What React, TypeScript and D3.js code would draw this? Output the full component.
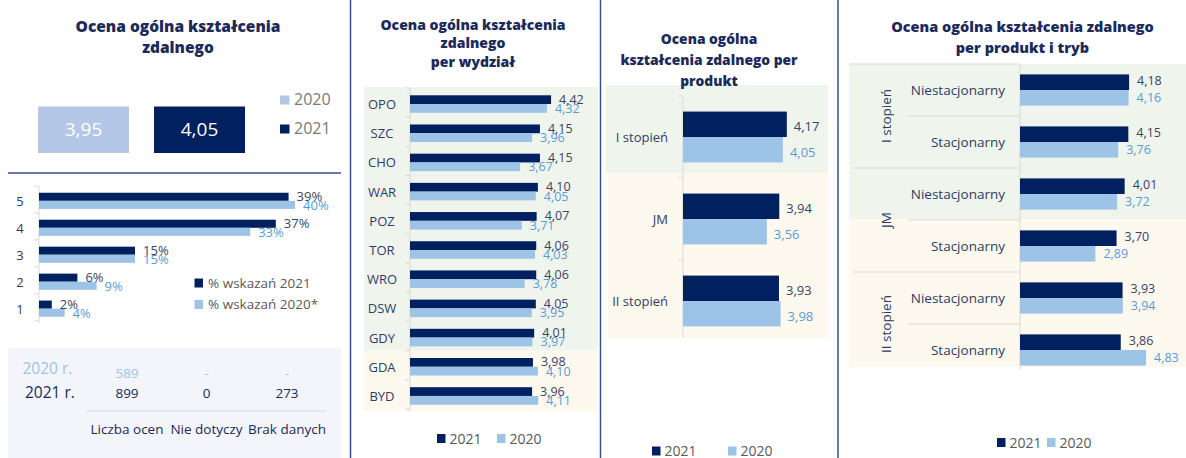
import React from "react";
import * as d3 from "d3";

// ---------- DATA ----------
const summaryYears = ["2020", "2021"];
const summaryValues = [3.95, 4.05];

const ratingCats = ["5", "4", "3", "2", "1"];
const ratingShare2021 = [39, 37, 15, 6, 2];
const ratingShare2020 = [40, 33, 15, 9, 4];
const ratingLegend = ["% wskazań 2021", "% wskazań 2020*"];

const tableRowLabels = ["2020 r.", "2021 r."];
const tableColLabels = ["Liczba ocen", "Nie dotyczy", "Brak danych"];
const table2020 = ["589", "-", "-"];
const table2021 = ["899", "0", "273"];

const facultyCats = ["OPO", "SZC", "CHO", "WAR", "POZ", "TOR", "WRO", "DSW", "GDY", "GDA", "BYD"];
const faculty2021 = [4.42, 4.15, 4.15, 4.1, 4.07, 4.06, 4.06, 4.05, 4.01, 3.98, 3.96];
const faculty2020 = [4.32, 3.96, 3.67, 4.05, 3.71, 4.03, 3.78, 3.95, 3.97, 4.1, 4.11];

const productCats = ["I stopień", "JM", "II stopień"];
const product2021 = [4.17, 3.94, 3.93];
const product2020 = [4.05, 3.56, 3.98];

const modeGroups = ["I stopień", "JM", "II stopień"];
const modeCats = ["Niestacjonarny", "Stacjonarny"];
const mode2021 = [4.18, 4.15, 4.01, 3.7, 3.93, 3.86];
const mode2020 = [4.16, 3.76, 3.72, 2.89, 3.94, 4.83];

const legendYears = ["2021", "2020"];

// ---------- STYLE ----------
const NAVY = "#002060";
const LIGHT = "#9dc3e6";
const BOX_LIGHT = "#b4c7e7";
const TITLE = "#1c2a5b";
const LABEL = "#2f3b66";
const VAL_DARK = "#3a4366";
const VAL_LIGHT = "#5b9bd5";
const GREY = "#595959";
const GREEN_BG = "#eff5ec";
const CREAM_BG = "#fdf9ef";
const AXIS = "#d9d9d9";
const SEP = "#34508c";
const FONT = "'Open Sans', 'Noto Sans', sans-serif";

const fmt2 = (v: number) => d3.format(".2f")(v).replace(".", ",");

function Title({ lines, x, y0, dy, size }: { lines: string[]; x: number; y0: number; dy: number; size: number }) {
  return (
    <text x={x} y={y0} textAnchor="middle" fontFamily={FONT} fontWeight={800} fontSize={size} fill={TITLE}>
      {lines.map((l, i) => (
        <tspan key={i} x={x} y={y0 + i * dy}>
          {l}
        </tspan>
      ))}
    </text>
  );
}

function Panel1() {
  const x = d3.scaleLinear().domain([0, 40]).range([39, 295]);
  const y = d3.scaleBand<string>().domain(ratingCats).range([186, 323.5]).paddingInner(0.4).paddingOuter(0.25);
  const step = y.step();
  const bh = y.bandwidth() / 2;
  return (
    <g>
      <Title lines={["Ocena ogólna kształcenia", "zdalnego"]} x={178} y0={32} dy={21} size={15.5} />
      {/* summary boxes */}
      {summaryValues.map((v, i) => {
        const bx = i === 0 ? 38 : 154;
        return (
          <g key={i}>
            <rect x={bx} y={106.5} width={91} height={46.5} fill={i === 0 ? BOX_LIGHT : NAVY} />
            <text x={bx + 45.5} y={136} textAnchor="middle" fontFamily={FONT} fontSize={19} fill="#ffffff">
              {fmt2(v)}
            </text>
          </g>
        );
      })}
      {summaryYears.map((yr, i) => (
        <g key={yr}>
          <rect x={280} y={95.5 + i * 29} width={9.5} height={9} fill={i === 0 ? BOX_LIGHT : NAVY} />
          <text x={294} y={104.5 + i * 29.5} fontFamily={FONT} fontSize={16} fill="#7a7a7a">
            {yr}
          </text>
        </g>
      ))}
      <line x1={8} x2={341} y1={173} y2={173} stroke={SEP} strokeWidth={1.5} />
      {/* rating bars */}
      <line x1={39} x2={39} y1={186} y2={323.5} stroke={AXIS} />
      {d3.range(ratingCats.length + 1).map((i) => (
        <line key={i} x1={34} x2={39} y1={186 + i * step} y2={186 + i * step} stroke={AXIS} />
      ))}
      {ratingCats.map((c, i) => {
        const y0 = y(c)!;
        return (
          <g key={c}>
            <text x={20} y={y0 + bh + 5} textAnchor="middle" fontFamily={FONT} fontSize={13} fill={LABEL}>
              {c}
            </text>
            <rect x={x(0)} y={y0} width={x(ratingShare2021[i]) - x(0)} height={bh} fill={NAVY} />
            <rect x={x(0)} y={y0 + bh} width={x(ratingShare2020[i]) - x(0)} height={bh} fill={LIGHT} />
            <text x={x(ratingShare2021[i]) + 8} y={y0 + bh} fontFamily={FONT} fontSize={13} fill={VAL_DARK}>
              {ratingShare2021[i]}%
            </text>
            <text x={x(ratingShare2020[i]) + 8} y={y0 + 2 * bh + 1.5} fontFamily={FONT} fontSize={13} fill={VAL_LIGHT}>
              {ratingShare2020[i]}%
            </text>
          </g>
        );
      })}
      {ratingLegend.map((l, i) => (
        <g key={l}>
          <rect x={194.5} y={278.5 + i * 21.5} width={8.5} height={9} fill={i === 0 ? NAVY : LIGHT} />
          <text x={208} y={287.5 + i * 21} fontFamily={FONT} fontSize={13.5} fill={GREY}>
            {l}
          </text>
        </g>
      ))}
      {/* table */}
      <rect x={8} y={348} width={333} height={110} fill="#f3f5fa" />
      <text x={22.5} y={373.5} fontFamily={FONT} fontSize={15.5} fill={LIGHT}>
        {tableRowLabels[0]}
      </text>
      <text x={25} y={397.5} fontFamily={FONT} fontSize={15.5} fill={TITLE}>
        {tableRowLabels[1]}
      </text>
      {tableColLabels.map((c, i) => {
        const cx = [127, 206.5, 287][i];
        return (
          <g key={c}>
            <text x={cx} y={377.5} textAnchor="middle" fontFamily={FONT} fontSize={13.5} fill={LIGHT}>
              {table2020[i]}
            </text>
            <text x={cx} y={397.5} textAnchor="middle" fontFamily={FONT} fontSize={13.5} fill={TITLE}>
              {table2021[i]}
            </text>
            <text x={cx} y={434} textAnchor="middle" fontFamily={FONT} fontSize={13.5} fill={TITLE}>
              {c}
            </text>
          </g>
        );
      })}
      <line x1={86} x2={326} y1={411} y2={411} stroke={AXIS} />
    </g>
  );
}

function Legend2({ x0, x1, y }: { x0: number; x1: number; y: number }) {
  return (
    <g>
      {legendYears.map((yr, i) => (
        <g key={yr}>
          <rect x={i === 0 ? x0 : x1} y={y - 4.5} width={8.5} height={9} fill={i === 0 ? NAVY : LIGHT} />
          <text x={(i === 0 ? x0 : x1) + 12.5} y={y + 5} fontFamily={FONT} fontSize={14} fill={GREY}>
            {yr}
          </text>
        </g>
      ))}
    </g>
  );
}

function Panel2() {
  const x = d3.scaleLinear().domain([1, 5]).range([410, 575]);
  const y = d3.scaleBand<string>().domain(facultyCats).range([88, 412]).paddingInner(0.4).paddingOuter(0.25);
  const step = y.step();
  const bh = y.bandwidth() / 2;
  const split = 88 + 9 * step;
  return (
    <g>
      <rect x={364} y={87} width={234} height={split - 87} fill={GREEN_BG} />
      <rect x={364} y={split} width={234} height={411 - split} fill={CREAM_BG} />
      <Title lines={["Ocena ogólna kształcenia", "zdalnego", "per wydział"]} x={473} y0={29.5} dy={18.6} size={14} />
      <line x1={410} x2={410} y1={88} y2={412} stroke={AXIS} />
      {d3.range(facultyCats.length + 1).map((i) => (
        <line key={i} x1={405} x2={410} y1={88 + i * step} y2={88 + i * step} stroke={AXIS} />
      ))}
      {facultyCats.map((c, i) => {
        const y0 = y(c)!;
        return (
          <g key={c}>
            <text x={382} y={y0 + bh + 5} textAnchor="middle" fontFamily={FONT} fontSize={13} fill={LABEL}>
              {c}
            </text>
            <rect x={x(1)} y={y0} width={x(faculty2021[i]) - x(1)} height={bh} fill={NAVY} />
            <rect x={x(1)} y={y0 + bh} width={x(faculty2020[i]) - x(1)} height={bh} fill={LIGHT} />
            <text x={x(faculty2021[i]) + 8} y={y0 + bh / 2 + 4} fontFamily={FONT} fontSize={12.5} fill={VAL_DARK}>
              {fmt2(faculty2021[i])}
            </text>
            <text x={x(faculty2020[i]) + 8} y={y0 + bh * 1.5 + 4.5} fontFamily={FONT} fontSize={12.5} fill={VAL_LIGHT}>
              {fmt2(faculty2020[i])}
            </text>
          </g>
        );
      })}
      <Legend2 x0={437} x1={497} y={438.5} />
    </g>
  );
}

function Panel3() {
  const x = d3.scaleLinear().domain([1, 5]).range([683, 814]);
  const y = d3.scaleBand<string>().domain(productCats).range([96, 342]).paddingInner(0.38).paddingOuter(0.19);
  const step = y.step();
  const bh = y.bandwidth() / 2;
  return (
    <g>
      <rect x={606} y={85} width={222} height={88} fill={GREEN_BG} />
      <rect x={608} y={173} width={220} height={165} fill={CREAM_BG} />
      <Title lines={["Ocena ogólna", "kształcenia zdalnego per", "produkt"]} x={709} y0={43.5} dy={21} size={13.8} />
      <line x1={683} x2={683} y1={96} y2={338} stroke={AXIS} />
      {d3.range(productCats.length).map((i) => (
        <line key={i} x1={678} x2={683} y1={96 + i * step} y2={96 + i * step} stroke={AXIS} />
      ))}
      {productCats.map((c, i) => {
        const y0 = y(c)!;
        return (
          <g key={c}>
            <text x={668} y={y0 + bh + 5} textAnchor="end" fontFamily={FONT} fontSize={13} fill={LABEL}>
              {c}
            </text>
            <rect x={x(1)} y={y0} width={x(product2021[i]) - x(1)} height={bh} fill={NAVY} />
            <rect x={x(1)} y={y0 + bh} width={x(product2020[i]) - x(1)} height={bh} fill={LIGHT} />
            <text x={x(product2021[i]) + 7} y={y0 + bh / 2 + 7} fontFamily={FONT} fontSize={13} fill={VAL_DARK}>
              {fmt2(product2021[i])}
            </text>
            <text x={x(product2020[i]) + 7} y={y0 + bh * 1.5 + 7} fontFamily={FONT} fontSize={13} fill={VAL_LIGHT}>
              {fmt2(product2020[i])}
            </text>
          </g>
        );
      })}
      <Legend2 x0={652} x1={728} y={451} />
    </g>
  );
}

function Panel4() {
  const rows = modeGroups.flatMap((g) => modeCats.map((m) => `${g}|${m}`));
  const x = d3.scaleLinear().domain([0, 5]).range([1020, 1150.5]);
  const y = d3.scaleBand<string>().domain(rows).range([64, 376]).paddingInner(0.4).paddingOuter(0.2);
  const step = y.step();
  const bh = y.bandwidth() / 2;
  return (
    <g>
      <rect x={849} y={64} width={337} height={155} fill={GREEN_BG} />
      <rect x={849} y={219} width={337} height={148} fill={CREAM_BG} />
      <Title lines={["Ocena ogólna kształcenia zdalnego", "per produkt i tryb"]} x={1022.5} y0={31.5} dy={21} size={14.5} />
      <line x1={849} x2={1020} y1={64} y2={64} stroke={AXIS} />
      {d3.range(1, rows.length).map((i) => (
        <line key={i} x1={i % 2 === 0 ? 853 : 908} x2={1020} y1={64 + i * step} y2={64 + i * step} stroke={AXIS} />
      ))}
      <line x1={1020} x2={1020} y1={64} y2={370} stroke={AXIS} />
      {modeGroups.map((g, gi) => {
        const cy = 64 + (gi * 2 + 1) * step;
        return (
          <text
            key={g}
            transform={`translate(${891},${cy}) rotate(-90)`}
            textAnchor="middle"
            fontFamily={FONT}
            fontSize={13.5}
            fill={LABEL}
          >
            {g}
          </text>
        );
      })}
      {rows.map((r, i) => {
        const y0 = y(r)!;
        const m = r.split("|")[1];
        return (
          <g key={r}>
            <text x={1005} y={y0 + bh + 4.5} textAnchor="end" fontFamily={FONT} fontSize={13.5} fill={LABEL}>
              {m}
            </text>
            <rect x={x(0)} y={y0} width={x(mode2021[i]) - x(0)} height={bh} fill={NAVY} />
            <rect x={x(0)} y={y0 + bh} width={x(mode2020[i]) - x(0)} height={bh} fill={LIGHT} />
            <text x={x(mode2021[i]) + 8} y={y0 + bh / 2 + 3} fontFamily={FONT} fontSize={12.5} fill={VAL_DARK}>
              {fmt2(mode2021[i])}
            </text>
            <text x={x(mode2020[i]) + 8} y={y0 + bh * 1.5 + 4} fontFamily={FONT} fontSize={12.5} fill={VAL_LIGHT}>
              {fmt2(mode2020[i])}
            </text>
          </g>
        );
      })}
      <Legend2 x0={997} x1={1047} y={442.5} />
    </g>
  );
}

export default function App() {
  return (
    <svg
      width={1186}
      height={458}
      viewBox="0 0 1186 458"
      style={{ position: "absolute", left: 0, top: 0, display: "block", background: "#ffffff" }}
    >
      <rect x={0} y={0} width={1186} height={458} fill="#ffffff" />
      <Panel1 />
      <Panel2 />
      <Panel3 />
      <Panel4 />
      <line x1={350.5} x2={350.5} y1={0} y2={458} stroke={SEP} strokeWidth={1.5} />
      <line x1={600.5} x2={600.5} y1={0} y2={458} stroke={SEP} strokeWidth={1.5} />
      <line x1={838} x2={838} y1={0} y2={458} stroke={SEP} strokeWidth={1.5} />
    </svg>
  );
}
